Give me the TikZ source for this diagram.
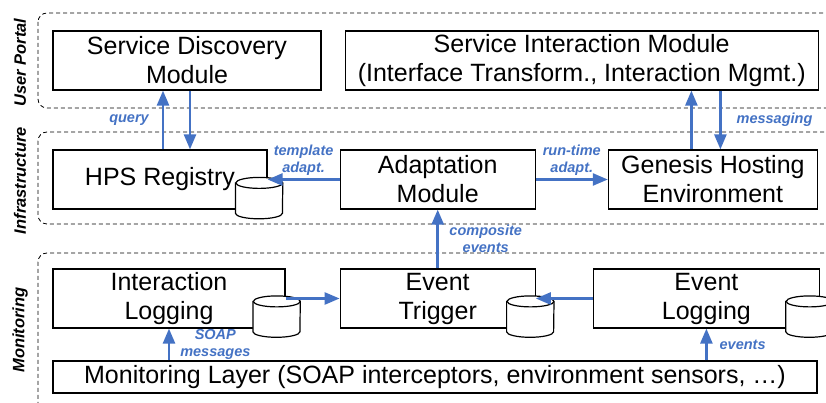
\documentclass[tikz,border=0pt]{standalone}
\usepackage{fontspec}
\setmainfont{Liberation Sans}
\usepackage{tikz}
\usetikzlibrary{positioning,arrows.meta}
\definecolor{flowblue}{RGB}{68,114,196}

\begin{document}
\begin{tikzpicture}[x=1pt, y=1pt,
  every node/.style={font=\fontsize{25}{29}\selectfont},
  box/.style={draw, line width=1.2pt, minimum height=59pt, align=center, inner sep=1pt},
  db/.style={minimum width=47pt, minimum height=41pt, inner sep=0pt},
  dbline/.style={line width=1.2pt, fill=white},
  layer/.style={draw, line width=0.8pt, dash pattern=on 4pt off 3pt, rounded corners=9pt},
  flow/.style={draw=flowblue, line width=2.5pt, -{Triangle[length=15pt,width=12pt]}},
  lbl/.style={text=flowblue, font=\fontsize{14.5}{17}\selectfont\bfseries\itshape, align=center, inner sep=2pt},
  tag/.style={font=\fontsize{16.5}{20}\selectfont\bfseries\itshape, rotate=90}]
  \clip (0,0) rectangle (826,403);

  % layers
  \draw[layer] (38,390) rectangle (850,295);
  \draw[layer] (38,271) rectangle (850,179);
  \draw[layer] (38,150) rectangle (850,-12);
  \node[tag] (tup) at (20,340.5) {User Portal};
  \node[tag] (tinf) at (20,222.5) {Infrastructure};
  \node[tag] (tmon) at (20,73) {Monitoring};

  % user portal
  \node[box, minimum width=268pt] (sdm) at (187,342.5) {Service Discovery\\Module};
  \node[box, minimum width=473pt, right=23pt of sdm] (sim) {Service Interaction Module\\(Interface Transform., Interaction Mgmt.)};

  % infrastructure
  \node[box, minimum width=214pt] (hps) at (160,223.5) {HPS Registry};
  \node[box, minimum width=195pt, right=72pt of hps] (adapt) {Adaptation\\Module};
  \node[box, minimum width=209pt, right=72pt of adapt] (gen) {Genesis Hosting\\Environment};

  % monitoring
  \node[box, minimum width=232pt] (il) at (169,104.5) {Interaction\\Logging};
  \node[box, minimum width=195pt, right=54pt of il] (et) {Event\\Trigger};
  \node[box, minimum width=226pt, right=57pt of et] (el) {Event\\Logging};
  \node[box, minimum width=764pt, minimum height=32pt] (ml) at (435,26) {Monitoring Layer (SOAP interceptors, environment sensors, …)};

  % stores
  \node[db] (hpsdb) at ([shift={(-8.5,11.5)}]hps.south east) {};
  \node[db] (ildb) at ([shift={(-9,12)}]il.south east) {};
  \node[db] (etdb) at ([shift={(-5.5,12)}]et.south east) {};
  \node[db] (eldb) at ([shift={(-10.5,12)}]el.south east) {};
  \foreach \c in {hpsdb,ildb,etdb,eldb} {
    \filldraw[dbline] ([yshift=-5.5pt]\c.north west) -- ([yshift=5.5pt]\c.south west)
      arc[start angle=180, end angle=360, x radius=23.5pt, y radius=5.5pt]
      -- ([yshift=-5.5pt]\c.north east)
      arc[start angle=0, end angle=180, x radius=23.5pt, y radius=5.5pt] -- cycle;
    \draw[line width=1.2pt] ([yshift=-5.5pt]\c.north east)
      arc[start angle=0, end angle=-180, x radius=23.5pt, y radius=5.5pt];
  }

  % flows
  \draw[flow] ([xshift=3pt]hps.north) -- ([xshift=3pt]hps.north |- sdm.south) node[lbl, midway, left=11pt] (lq) {query};
  \draw[flow] ([xshift=30pt]hps.north |- sdm.south) -- ([xshift=30pt]hps.north);
  \draw[flow] ([xshift=-21.5pt]gen.north) -- ([xshift=-21.5pt]gen.north |- sim.south);
  \draw[flow] ([xshift=7.5pt]gen.north |- sim.south) -- ([xshift=7.5pt]gen.north) node[lbl, midway, right=13pt] (lmsg) {messaging};
  \draw[flow] (adapt.west) -- (hps.east) node[lbl, midway, above=1pt] (lta) {template\\adapt.};
  \draw[flow] (adapt.east) -- (gen.west) node[lbl, midway, above=1pt] (lrt) {run-time\\adapt.};
  \draw[flow] (et.north) -- (adapt.south) node[lbl, midway, right=8.5pt] (lce) {composite\\events};
  \draw[flow] (il.east) -- (et.west);
  \draw[flow] (el.west) -- (et.east);
  \draw[flow] (ml.north -| il.south) -- (il.south) node[lbl, midway, right=8pt] (lsm) {SOAP\\messages};
  \draw[flow] (ml.north -| el.south) -- (el.south) node[lbl, midway, right=10pt] (lev) {events};
\end{tikzpicture}
\end{document}
